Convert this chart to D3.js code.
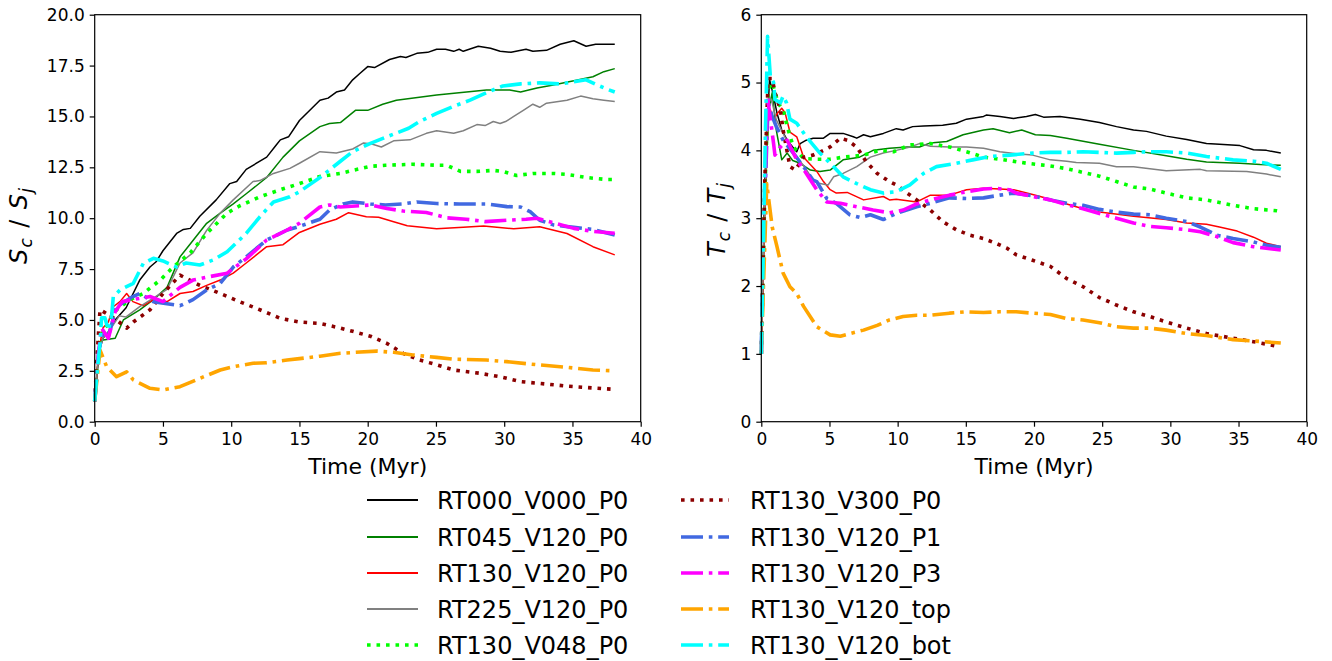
<!DOCTYPE html>
<html><head><meta charset="utf-8">
<script src="https://cdn.jsdelivr.net/npm/d3@7"></script>
<style>
html,body{margin:0;padding:0;background:#fff;}
svg{display:block;font-family:"DejaVu Sans",sans-serif;}
</style></head>
<body><svg id="c" width="1332" height="661"></svg>
<script>
// ---------- DATA (time in Myr, value) ----------
const seriesNames = ["RT000_V000_P0","RT045_V120_P0","RT130_V120_P0","RT225_V120_P0","RT130_V048_P0",
  "RT130_V300_P0","RT130_V120_P1","RT130_V120_P3","RT130_V120_top","RT130_V120_bot"];
const xTicks = [0,5,10,15,20,25,30,35,40];
const yTicksS = [0,2.5,5,7.5,10,12.5,15,17.5,20];
const yTicksT = [0,1,2,3,4,5,6];

// Left panel: S_c / S_j
const S_RT000_V000_P0 = [[0,1],[0.3,3.4],[0.6,4.1],[1.0,4.4],[1.5,5.0],[2.3,5.6],[3.3,6.96],[4.05,7.6],[4.5,7.86],[5.0,8.4],[6.0,9.25],[6.5,9.45],[7.0,9.5],[7.7,10.1],[8.9,10.9],[9.9,11.7],[10.4,11.8],[11.1,12.4],[12.6,13.0],[13.3,13.6],[13.6,13.85],[14.2,14.0],[15.0,14.8],[16.5,15.8],[17.1,15.9],[17.7,16.2],[18.3,16.3],[18.9,16.8],[19.4,17.1],[20.0,17.45],[20.5,17.4],[21.6,17.8],[22.4,17.95],[22.8,17.9],[23.6,18.1],[24.4,18.15],[25.05,18.3],[25.7,18.3],[26.3,18.2],[26.7,18.3],[27.0,18.2],[28.1,18.45],[29.0,18.35],[29.7,18.2],[30.5,18.15],[31.6,18.3],[32.1,18.2],[33.1,18.25],[34.1,18.55],[35.1,18.72],[36.0,18.45],[36.7,18.55],[38.1,18.55]];
const S_RT045_V120_P0 = [[0,1],[0.3,3.4],[0.5,4.0],[1.5,4.1],[2.1,5.0],[3.3,5.5],[4.3,6.0],[5.3,6.6],[6.25,8.1],[7.2,8.9],[8.2,9.75],[9.2,10.25],[10.15,10.7],[11.1,11.2],[12.6,12.0],[13.8,13.0],[15.0,13.8],[16.5,14.5],[17.2,14.65],[18.0,14.7],[19.1,15.3],[20.0,15.3],[21.1,15.6],[22.1,15.8],[25.05,16.05],[28.7,16.3],[30.4,16.3],[31.2,16.2],[32.4,16.4],[33.6,16.55],[35.1,16.75],[36.5,16.95],[37.3,17.2],[38.1,17.35]];
const S_RT130_V120_P0 = [[0,1],[0.3,3.5],[0.6,4.6],[1.0,4.9],[1.36,5.65],[1.85,5.9],[2.34,6.3],[2.8,5.9],[3.56,5.7],[4.3,6.0],[5.3,5.9],[6.25,6.3],[7.2,6.4],[8.2,6.7],[9.2,6.96],[10.15,7.3],[11.1,7.8],[12.6,8.6],[13.8,8.7],[15.0,9.3],[16.5,9.7],[17.7,9.95],[18.6,10.27],[19.9,10.07],[20.8,10.05],[21.9,9.83],[22.9,9.63],[25.05,9.48],[27.0,9.55],[28.5,9.62],[30.7,9.48],[32.6,9.58],[34.6,9.25],[36.5,8.6],[38.1,8.2]];
const S_RT225_V120_P0 = [[0,1],[0.3,3.4],[0.6,4.1],[1.2,4.6],[1.8,5.2],[2.3,5.15],[3.3,5.65],[4.0,5.95],[5.3,6.5],[6.25,7.8],[7.2,8.3],[8.2,9.4],[9.2,10.25],[10.15,10.9],[11.6,11.8],[12.1,11.85],[13.1,12.2],[14.3,12.45],[15.0,12.7],[16.5,13.27],[17.7,13.2],[18.9,13.4],[19.7,13.7],[20.3,13.65],[21.0,13.5],[21.9,13.8],[23.1,13.85],[24.3,14.17],[25.05,14.3],[26.3,14.17],[27.0,14.3],[28.0,14.6],[28.6,14.55],[29.2,14.75],[29.7,14.65],[30.1,14.75],[30.7,15.0],[31.4,15.3],[32.1,15.6],[32.6,15.45],[33.1,15.65],[34.6,15.8],[35.6,16.0],[36.5,15.87],[37.3,15.8],[38.1,15.73]];
const S_RT130_V048_P0 = [[0,1],[0.3,3.8],[0.6,4.5],[1.0,4.8],[1.6,5.5],[2.6,6.0],[3.56,6.3],[4.8,6.96],[5.75,7.6],[7.0,8.3],[8.2,9.25],[9.7,10.25],[10.6,10.6],[12.1,11.05],[13.6,11.4],[15.0,11.7],[16.5,12.05],[18.0,12.2],[18.9,12.35],[20.2,12.55],[21.3,12.6],[23.3,12.65],[25.05,12.6],[25.8,12.6],[26.8,12.3],[28.0,12.3],[29.2,12.35],[29.9,12.3],[30.9,12.1],[32.1,12.2],[33.6,12.2],[34.6,12.15],[36.0,12.0],[37.5,11.9],[38.1,11.9]];
const S_RT130_V300_P0 = [[0,1],[0.2,3.5],[0.39,5.5],[0.9,5.3],[1.6,5.0],[2.34,4.6],[2.83,4.9],[4.05,5.5],[5.0,6.3],[6.25,7.2],[7.7,6.7],[9.2,6.3],[10.6,5.9],[12.1,5.5],[13.6,5.08],[15.0,4.9],[16.5,4.83],[18.0,4.6],[18.9,4.44],[20.2,4.2],[21.4,3.85],[22.6,3.36],[23.8,3.03],[25.05,2.8],[26.3,2.54],[28.2,2.38],[29.7,2.21],[31.2,1.97],[32.6,1.88],[34.6,1.75],[36.0,1.68],[38.0,1.59]];
const S_RT130_V120_P1 = [[0,1],[0.3,3.5],[0.6,4.4],[1.0,4.2],[1.6,5.65],[2.8,6.15],[3.3,6.3],[4.3,5.9],[5.3,5.8],[6.25,5.7],[7.2,6.0],[8.2,6.47],[9.2,6.8],[10.15,7.6],[11.1,8.1],[12.6,8.93],[14.1,9.42],[15.0,9.6],[16.5,9.95],[17.2,10.4],[18.2,10.7],[18.9,10.8],[20.2,10.7],[21.3,10.65],[22.6,10.7],[23.6,10.8],[25.05,10.72],[26.7,10.7],[28.7,10.7],[30.2,10.57],[31.2,10.55],[31.9,10.32],[32.6,9.9],[33.6,9.67],[35.1,9.55],[36.5,9.45],[38.1,9.17]];
const S_RT130_V120_P3 = [[0,1],[0.3,3.5],[0.5,4.6],[1.0,4.1],[1.5,5.4],[2.0,5.9],[2.8,6.0],[4.05,6.15],[5.0,5.9],[6.25,6.6],[7.2,6.96],[8.2,7.1],[9.7,7.3],[11.1,8.0],[12.6,8.93],[14.1,9.42],[15.0,9.75],[16.5,10.55],[17.2,10.65],[18.0,10.55],[20.2,10.65],[21.4,10.48],[22.6,10.35],[24.3,10.28],[25.8,10.02],[27.2,9.95],[28.6,9.83],[30.2,9.9],[31.6,9.95],[32.4,10.0],[33.6,9.78],[35.1,9.5],[36.5,9.35],[38.1,9.26]];
const S_RT130_V120_top = [[0,1],[0.39,3.52],[0.88,2.7],[1.6,2.21],[2.34,2.45],[2.83,2.05],[4.05,1.64],[5.0,1.56],[6.25,1.72],[7.7,2.13],[9.2,2.54],[10.15,2.7],[11.6,2.87],[12.6,2.9],[14.1,3.03],[15.0,3.1],[16.5,3.22],[18.0,3.36],[18.9,3.4],[20.65,3.47],[21.9,3.41],[23.3,3.28],[25.05,3.16],[26.3,3.07],[28.7,3.03],[30.2,2.95],[32.4,2.8],[34.6,2.67],[36.5,2.54],[38.1,2.5]];
const S_RT130_V120_bot = [[0,1],[0.2,2.6],[0.39,3.85],[0.5,5.1],[0.75,5.1],[1.0,4.5],[1.25,5.24],[1.36,6.14],[1.85,6.47],[2.83,6.8],[3.56,7.78],[4.3,8.03],[5.0,7.9],[6.0,7.6],[6.7,7.8],[7.7,7.7],[8.7,7.95],[9.7,8.35],[11.1,9.25],[12.1,10.07],[13.1,10.8],[14.3,11.05],[15.0,11.3],[16.5,12.0],[18.0,12.8],[18.9,13.27],[20.2,13.68],[21.4,14.0],[23.0,14.42],[23.8,14.75],[25.05,15.15],[26.3,15.5],[27.5,15.8],[28.7,16.17],[29.9,16.5],[31.2,16.6],[32.6,16.65],[34.1,16.6],[35.1,16.7],[36.0,16.8],[36.8,16.55],[37.5,16.35],[38.1,16.2]];

// Right panel: T_c / T_j
const T_RT000_V000_P0 = [[0,1],[0.25,3.5],[0.6,5.05],[0.9,4.8],[1.15,4.55],[1.5,4.3],[1.9,4.15],[2.3,4.05],[2.6,3.98],[2.85,4.1],[3.3,4.15],[3.8,4.18],[4.56,4.18],[5.05,4.25],[6.0,4.25],[6.75,4.2],[7.0,4.18],[7.5,4.23],[8.0,4.2],[8.95,4.25],[9.9,4.32],[10.4,4.3],[11.1,4.35],[11.9,4.36],[13.3,4.37],[14.3,4.4],[15.05,4.46],[16.3,4.5],[16.5,4.52],[17.5,4.5],[18.5,4.47],[19.45,4.5],[20.1,4.53],[20.7,4.49],[21.9,4.5],[23.4,4.46],[24.8,4.41],[26.05,4.35],[27.3,4.3],[28.25,4.28],[29.7,4.21],[31.2,4.16],[32.65,4.1],[33.6,4.09],[35.1,4.07],[36.1,4.01],[37.05,4.0],[38.1,3.96]];
const T_RT045_V120_P0 = [[0,1],[0.25,3.2],[0.55,4.6],[0.8,4.85],[1.1,4.3],[1.5,3.86],[1.9,3.96],[2.3,3.85],[2.85,3.81],[3.6,3.71],[4.3,3.69],[5.05,3.71],[6.0,3.86],[7.2,3.9],[8.2,4.0],[9.4,4.03],[10.7,4.05],[11.6,4.05],[12.4,4.11],[13.6,4.13],[14.8,4.23],[16.3,4.3],[17.0,4.32],[18.2,4.26],[19.1,4.3],[20.1,4.23],[21.2,4.22],[22.4,4.18],[24.8,4.09],[27.3,4.0],[29.7,3.92],[31.2,3.87],[32.65,3.83],[33.6,3.82],[35.1,3.81],[36.6,3.79],[38.1,3.78]];
const T_RT130_V120_P0 = [[0,1],[0.25,3.0],[0.5,4.5],[0.66,4.6],[0.9,4.45],[1.2,4.55],[1.5,4.62],[1.75,4.55],[2.1,4.27],[2.6,4.2],[3.1,3.9],[4.07,3.69],[4.56,3.54],[5.05,3.42],[5.5,3.37],[6.3,3.38],[7.5,3.27],[8.95,3.32],[9.4,3.27],[9.9,3.28],[11.4,3.24],[12.4,3.34],[13.8,3.34],[15.05,3.42],[16.3,3.44],[17.5,3.43],[18.5,3.42],[19.9,3.35],[21.2,3.28],[22.4,3.21],[23.6,3.14],[24.8,3.09],[27.3,3.03],[29.7,2.98],[31.2,2.93],[32.65,2.91],[33.6,2.87],[34.9,2.81],[36.1,2.72],[37.05,2.63],[38.1,2.58]];
const T_RT225_V120_P0 = [[0,1],[0.25,3.2],[0.55,4.8],[0.8,4.7],[1.1,4.45],[1.6,4.25],[2.1,4.05],[2.6,3.9],[3.2,3.75],[3.8,3.56],[4.3,3.51],[4.9,3.49],[5.3,3.61],[6.0,3.66],[7.0,3.76],[8.0,3.9],[8.95,3.96],[9.9,4.0],[10.9,4.05],[11.6,4.1],[12.4,4.06],[13.8,4.05],[15.05,4.05],[16.3,4.03],[17.5,3.98],[18.7,3.95],[19.9,3.93],[21.2,3.86],[22.4,3.84],[23.1,3.82],[24.8,3.81],[26.05,3.76],[27.3,3.76],[28.5,3.73],[29.7,3.7],[32.2,3.72],[32.65,3.7],[35.6,3.69],[37.05,3.65],[38.1,3.61]];
const T_RT130_V048_P0 = [[0,1],[0.25,3.3],[0.5,4.9],[0.8,5.0],[1.25,4.69],[1.6,4.6],[1.9,4.35],[2.35,4.05],[3.1,3.88],[4.07,3.87],[5.05,3.87],[6.0,3.9],[7.5,3.93],[8.7,4.0],[9.7,3.98],[10.9,4.08],[12.4,4.1],[13.8,4.05],[15.05,3.98],[16.3,3.9],[17.5,3.87],[19.45,3.81],[21.2,3.77],[22.4,3.73],[24.8,3.62],[26.05,3.54],[27.3,3.46],[28.5,3.43],[29.7,3.37],[31.2,3.3],[32.65,3.27],[34.6,3.19],[36.1,3.14],[37.8,3.11],[38.1,3.1]];
const T_RT130_V300_P0 = [[0,1],[0.25,3.5],[0.5,5.06],[0.8,5.06],[1.0,4.85],[1.4,4.6],[1.6,4.3],[2.1,3.76],[2.5,3.71],[3.1,3.9],[3.8,3.93],[4.56,4.0],[5.05,4.05],[5.8,4.18],[6.3,4.15],[7.0,4.05],[7.7,3.83],[8.5,3.66],[9.4,3.54],[9.9,3.49],[10.7,3.37],[11.4,3.27],[12.4,3.12],[13.3,2.95],[14.3,2.83],[15.3,2.75],[16.3,2.7],[17.2,2.63],[18.0,2.56],[18.7,2.46],[19.9,2.38],[21.2,2.29],[22.4,2.11],[23.6,1.99],[24.8,1.83],[26.05,1.72],[27.3,1.62],[28.5,1.55],[29.7,1.47],[31.2,1.38],[32.65,1.3],[34.6,1.23],[36.1,1.18],[37.9,1.11]];
const T_RT130_V120_P1 = [[0,1],[0.25,3.2],[0.5,4.7],[0.8,4.5],[1.1,4.35],[1.6,4.15],[2.35,3.96],[3.1,3.76],[3.8,3.56],[4.07,3.54],[4.8,3.29],[5.5,3.22],[6.5,3.05],[7.25,3.01],[8.0,3.05],[8.95,2.98],[9.9,3.07],[11.4,3.17],[12.4,3.22],[13.8,3.3],[15.05,3.29],[16.3,3.3],[17.5,3.34],[18.5,3.37],[19.9,3.33],[21.2,3.27],[22.4,3.22],[23.6,3.19],[24.8,3.13],[26.05,3.09],[27.3,3.06],[28.5,3.05],[29.7,3.0],[31.2,2.95],[32.2,2.87],[33.4,2.75],[34.6,2.7],[36.1,2.65],[37.05,2.6],[38.1,2.57]];
const T_RT130_V120_P3 = [[0,1],[0.25,3.3],[0.45,4.8],[0.64,4.5],[0.9,4.1],[1.0,3.93],[1.4,4.05],[1.9,4.15],[2.6,3.86],[3.3,3.66],[4.07,3.42],[4.8,3.24],[5.8,3.22],[7.0,3.17],[8.2,3.12],[9.4,3.08],[10.4,3.12],[11.4,3.21],[12.4,3.27],[13.8,3.34],[15.05,3.39],[16.3,3.43],[17.2,3.44],[18.2,3.42],[18.7,3.37],[19.9,3.32],[21.2,3.27],[22.4,3.2],[23.6,3.14],[24.8,3.07],[26.05,3.0],[27.3,2.93],[28.5,2.88],[29.7,2.86],[31.2,2.83],[32.2,2.8],[33.4,2.73],[34.6,2.64],[36.1,2.58],[38.1,2.53]];
const T_RT130_V120_top = [[0,1],[0.4,3.51],[0.8,2.87],[1.15,2.58],[1.6,2.19],[2.1,1.99],[2.6,1.89],[3.1,1.7],[4.07,1.4],[5.05,1.28],[5.8,1.26],[6.5,1.3],[7.5,1.35],[8.5,1.42],[9.4,1.5],[10.4,1.55],[11.4,1.57],[12.4,1.57],[13.8,1.6],[15.05,1.62],[16.3,1.61],[17.5,1.62],[18.7,1.62],[19.9,1.6],[21.2,1.58],[22.4,1.52],[23.6,1.5],[24.8,1.46],[26.05,1.4],[27.3,1.38],[28.5,1.38],[29.7,1.35],[31.2,1.3],[32.65,1.27],[34.6,1.21],[36.1,1.19],[38.1,1.16]];
const T_RT130_V120_bot = [[0,1],[0.17,2.78],[0.3,4.25],[0.46,5.68],[0.66,5.1],[0.9,5.0],[1.0,4.75],[1.4,4.7],[1.6,4.8],[1.85,4.7],[2.1,4.46],[2.6,4.4],[3.3,4.2],[4.3,3.96],[5.05,3.81],[6.0,3.61],[7.0,3.51],[8.0,3.42],[8.95,3.37],[9.9,3.39],[10.9,3.49],[11.9,3.66],[12.85,3.76],[14.3,3.81],[15.5,3.86],[16.8,3.91],[18.2,3.93],[19.9,3.96],[21.2,3.97],[22.4,3.97],[23.6,3.98],[24.8,3.97],[26.05,3.96],[27.3,3.97],[28.5,3.98],[29.7,3.98],[31.2,3.96],[32.65,3.91],[34.6,3.86],[36.1,3.84],[37.05,3.81],[38.1,3.72]];

const leftData = [S_RT000_V000_P0,S_RT045_V120_P0,S_RT130_V120_P0,S_RT225_V120_P0,S_RT130_V048_P0,S_RT130_V300_P0,S_RT130_V120_P1,S_RT130_V120_P3,S_RT130_V120_top,S_RT130_V120_bot];
const rightData = [T_RT000_V000_P0,T_RT045_V120_P0,T_RT130_V120_P0,T_RT225_V120_P0,T_RT130_V048_P0,T_RT130_V300_P0,T_RT130_V120_P1,T_RT130_V120_P3,T_RT130_V120_top,T_RT130_V120_bot];

// ---------- STYLES ----------
const colors = ["#000000","#008000","#ff0000","#808080","#00ff00","#8b0000","#4169e1","#ff00ff","#ffa500","#00ffff"];
const kinds  = ["solid","solid","solid","solid","dot","dot","dashdot","dashdot","dashdot","dashdot"];
function styleOf(k){
  if(k==="solid") return {w:1.5, dash:null};
  if(k==="dot") return {w:3.6, dash:"3.6,5.9"};
  return {w:3.6, dash:"22,5.8,3.6,5.8"};
}

const svg = d3.select("#c");
const FONT = "DejaVu Sans, sans-serif";

function panel(x0,x1,y0,y1,yDomain,yTicks,yFmt,data,labelMain,labelX,labelCY,labelLen){
  const x = d3.scaleLinear().domain([0,40]).range([x0,x1]);
  const y = d3.scaleLinear().domain(yDomain).range([y1,y0]);
  const g = svg.append("g");
  const line = d3.line().x(d=>x(d[0])).y(d=>y(d[1]));
  data.forEach((ser,i)=>{
    const s = styleOf(kinds[i]);
    g.append("path").attr("d",line(ser)).attr("fill","none")
      .attr("stroke",colors[i]).attr("stroke-width",s.w)
      .attr("stroke-dasharray",s.dash).attr("stroke-linejoin","round")
      .attr("stroke-linecap","butt");
  });
  // frame
  g.append("rect").attr("x",x0).attr("y",y0).attr("width",x1-x0).attr("height",y1-y0)
    .attr("fill","none").attr("stroke","#000").attr("stroke-width",1.2);
  const ax = g.append("g").attr("transform",`translate(0,${y1})`)
    .call(d3.axisBottom(x).tickValues(xTicks).tickFormat(d3.format("d")).tickSize(5).tickSizeOuter(0).tickPadding(6));
  const ay = g.append("g").attr("transform",`translate(${x0},0)`)
    .call(d3.axisLeft(y).tickValues(yTicks).tickFormat(yFmt).tickSize(5).tickSizeOuter(0).tickPadding(5));
  [ax,ay].forEach(a=>{
    a.select(".domain").remove();
    a.selectAll(".tick line").attr("stroke","#000").attr("stroke-width",1.2);
    a.selectAll("text").attr("font-family",FONT).attr("font-size",17).attr("fill","#000");
  });
  // x label
  g.append("text").attr("x",(x0+x1)/2).attr("y",474).attr("text-anchor","middle")
    .attr("font-family",FONT).attr("font-size",22).text("Time (Myr)");
  // y label (mathtext-like)
  const t = g.append("text").attr("transform",`translate(${labelX},${labelCY}) rotate(-90)`)
    .attr("text-anchor","middle").attr("font-family",FONT).attr("font-size",24)
    .attr("textLength",labelLen).attr("lengthAdjust","spacing");
  t.append("tspan").attr("font-style","italic").text(labelMain);
  t.append("tspan").attr("font-style","italic").attr("font-size",17).attr("dy",5).text("c");
  t.append("tspan").attr("dy",-5).text(" / ");
  t.append("tspan").attr("font-style","italic").text(labelMain);
  t.append("tspan").attr("font-style","italic").attr("font-size",17).attr("dy",5).text("j");
}

panel(94.7,640.7,14.7,421.7,[0,20],yTicksS,d3.format(".1f"),leftData,"S",27,226,76);
panel(761.3,1306.7,14.7,421.7,[0,6],yTicksT,d3.format("d"),rightData,"T",725,220,74);

// ---------- LEGEND ----------
const rowsY = [500,537,573,609,645];
const lg = svg.append("g");
seriesNames.forEach((n,i)=>{
  const col = i<5?0:1, r = i%5;
  const lx0 = col===0?367:681, lx1 = col===0?418:729, tx = col===0?437:750;
  const s = styleOf(kinds[i]);
  const yy = rowsY[r];
  lg.append("line").attr("x1",lx0).attr("x2",lx1).attr("y1",yy).attr("y2",yy)
    .attr("stroke",colors[i]).attr("stroke-width",s.w===1.5?2:s.w)
    .attr("stroke-dasharray",s.dash);
  lg.append("text").attr("x",tx).attr("y",yy+8.6).attr("font-family",FONT)
    .attr("font-size",24).text(n);
});
</script></body></html>
